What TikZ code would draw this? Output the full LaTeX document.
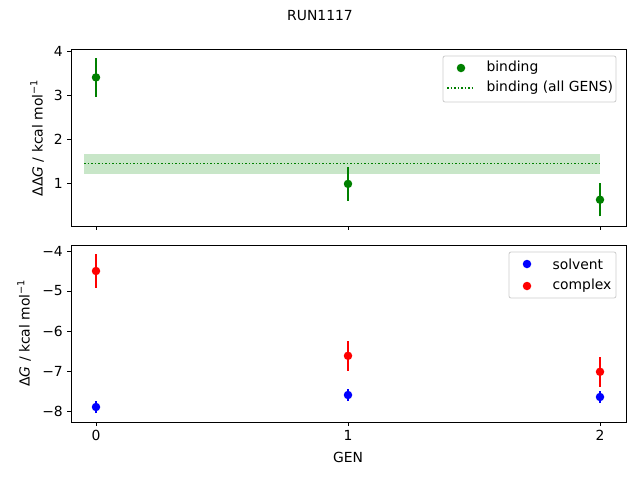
\documentclass[tikz,border=0pt]{standalone}
\usepackage{fontspec}
\setmainfont{DejaVu Sans}
\definecolor{mgreen}{HTML}{008000}
\definecolor{bandgreen}{HTML}{C8E6C8}
\tikzset{
  ax/.style={draw=black, line width=0.8pt},
  tick/.style={draw=black, line width=0.8pt},
  ticklab/.style={font=\fontsize{13.9}{16}\selectfont, inner sep=1pt},
  ebar/.style={line width=1.5pt},
  dot/.style={circle, inner sep=0pt, minimum size=8.5pt},
  legbox/.style={draw=black!20, fill=white, fill opacity=0.8, rounded corners=2pt, line width=0.8pt}
}
\begin{document}
\begin{tikzpicture}[x=1pt, y=-1pt, font=\fontsize{13.9}{16}\selectfont]
\useasboundingbox (0,0) rectangle (640,480);

% title
\node (title) at (320,16) {RUN1117};

% top panel: band and mean
\fill[bandgreen] (84,154) rectangle (600,174);
\draw[mgreen, line width=1.5pt, dotted] (84,163.5) -- (600,163.5);
\foreach \g/\v/\e in {0/3.4/0.45, 1/0.98/0.38, 2/0.62/0.38}{
  \pgfmathsetmacro{\px}{96+252*\g}
  \pgfmathsetmacro{\py}{227-44*\v}
  \pgfmathsetmacro{\plo}{227-44*(\v-\e)}
  \pgfmathsetmacro{\phi}{227-44*(\v+\e)}
  \draw[ebar, mgreen] (\px,\plo) -- (\px,\phi);
  \node[dot, fill=mgreen] at (\px,\py) {};
}
\draw[ax] (71,49) rectangle (626,226);
\foreach \v in {1,2,3,4}{
  \pgfmathsetmacro{\py}{227-44*\v}
  \draw[tick] (71,\py) -- (67,\py);
  \node[ticklab, anchor=east] at (64,\py) {\v};
}
\foreach \g in {0,1,2}{
  \pgfmathsetmacro{\px}{96+252*\g}
  \draw[tick] (\px,226) -- (\px,230);
}
\node (ylabtop) [rotate=90] at (37,138) {ΔΔ\textit{G} / kcal mol\textsuperscript{−1}};

% top legend
\draw[legbox] (443,56) rectangle (616,102);
\node[dot, fill=mgreen] (legbind) at (461,68) {};
\node[anchor=west] (legbindt) at (483,68) {binding};
\draw[mgreen, line width=1.5pt, dotted] (447,88) -- (475,88);
\node[anchor=west] (legall) at (483,88) {binding (all GENS)};

% bottom panel
\foreach \g/\v/\e in {0/-7.9/0.15, 1/-7.6/0.15, 2/-7.65/0.15}{
  \pgfmathsetmacro{\px}{96+252*\g}
  \pgfmathsetmacro{\py}{91-40*\v}
  \pgfmathsetmacro{\plo}{91-40*(\v-\e)}
  \pgfmathsetmacro{\phi}{91-40*(\v+\e)}
  \draw[ebar, blue] (\px,\plo) -- (\px,\phi);
  \node[dot, fill=blue] at (\px,\py) {};
}
\foreach \g/\v/\e in {0/-4.5/0.42, 1/-6.62/0.37, 2/-7.02/0.37}{
  \pgfmathsetmacro{\px}{96+252*\g}
  \pgfmathsetmacro{\py}{91-40*\v}
  \pgfmathsetmacro{\plo}{91-40*(\v-\e)}
  \pgfmathsetmacro{\phi}{91-40*(\v+\e)}
  \draw[ebar, red] (\px,\plo) -- (\px,\phi);
  \node[dot, fill=red] at (\px,\py) {};
}
\draw[ax] (71,245) rectangle (626,422);
\foreach \v/\t in {-4/4,-5/5,-6/6,-7/7,-8/8}{
  \pgfmathsetmacro{\py}{91-40*\v}
  \draw[tick] (71,\py) -- (67,\py);
  \node[ticklab, anchor=east] at (64,\py) {−\t};
}
\foreach \g in {0,1,2}{
  \pgfmathsetmacro{\px}{96+252*\g}
  \draw[tick] (\px,422) -- (\px,426);
  \node[ticklab, anchor=north] at (\px,429) {\g};
}
\node (ylabbot) [rotate=90] at (24,333) {Δ\textit{G} / kcal mol\textsuperscript{−1}};
\node (xlab) at (348,457) {GEN};

% bottom legend
\draw[legbox] (509,252) rectangle (616,298);
\node[dot, fill=blue] (legsolv) at (527,264) {};
\node[anchor=west] (legsolvt) at (549,264) {solvent};
\node[dot, fill=red] (legcomp) at (527,286) {};
\node[anchor=west] (legcompt) at (549,286) {complex};
\end{tikzpicture}
\end{document}
